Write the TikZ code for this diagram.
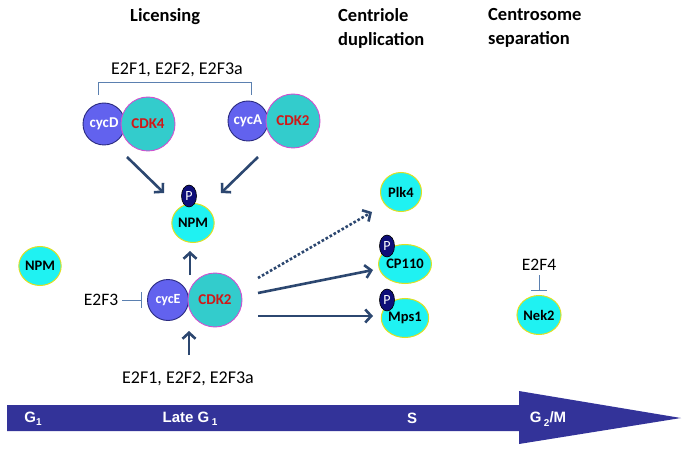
\documentclass[tikz,border=0pt]{standalone}
\usepackage{fontspec}
\setmainfont{Carlito}
\newfontfamily\barfont{Liberation Sans}
\usetikzlibrary{arrows.meta,shapes.geometric}
\definecolor{cycfill}{HTML}{6262EE}
\definecolor{cycline}{HTML}{2A2A80}
\definecolor{cdkfill}{HTML}{33CCCC}
\definecolor{cdkline}{HTML}{D050D0}
\definecolor{cdktext}{HTML}{D01818}
\definecolor{protfill}{HTML}{1FF2F2}
\definecolor{protline}{HTML}{E0E020}
\definecolor{pfill}{HTML}{0E0E78}
\definecolor{arrcol}{HTML}{2C4770}
\definecolor{inhcol}{HTML}{5B80B0}
\definecolor{barcol}{HTML}{333399}
\tikzset{
  cyc/.style={circle,draw=cycline,fill=cycfill,line width=0.9pt,inner sep=0pt,text=white,font=\bfseries\fontsize{15}{15}\selectfont},
  cdk/.style={circle,draw=cdkline,fill=cdkfill,line width=0.9pt,inner sep=0pt,text=cdktext,font=\bfseries\fontsize{15}{15}\selectfont},
  prot/.style={ellipse,draw=protline,fill=protfill,line width=1pt,inner sep=0pt,minimum width=41pt,minimum height=39pt,text=black,font=\bfseries\fontsize{14.5}{14.5}\selectfont},
  phos/.style={ellipse,draw=black,fill=pfill,line width=0.6pt,inner sep=0pt,minimum width=15pt,minimum height=22pt,text=white,font=\fontsize{14}{14}\selectfont},
  act/.style={draw=arrcol,line width=2.6pt,-{Straight Barb[length=6pt,width=13pt,line width=2.6pt]}},
  inh/.style={draw=inhcol,line width=0.9pt},
  lbl/.style={font=\fontsize{18}{18}\selectfont,inner sep=0pt},
  head/.style={font=\bfseries\fontsize{18.5}{24}\selectfont,inner sep=0pt,align=left,anchor=north west},
  phase/.style={text=white,font=\barfont\bfseries\fontsize{15}{15}\selectfont,inner sep=0pt}
}
\newcommand{\phsub}[1]{\raisebox{-3.5pt}{\fontsize{10}{10}\selectfont #1}}
\begin{document}
\begin{tikzpicture}[x=1pt,y=-1pt]
\useasboundingbox[fill=white] (0,0) rectangle (685,457);
% headings
\node[head] (h1) at (130,8) {Licensing};
\node[head] (h2) at (338,8) {Centriole\\duplication};
\node[head] (h3) at (488,8) {Centrosome\\separation};
% bracket
\node[lbl] (e2top) at (177,70) {E2F1, E2F2, E2F3a};
\coordinate (bl) at (98,95);
\coordinate (br) at (251,95);
\draw[inh] (bl) -- (98,82) -- (251,82) -- (br);
% cycD/CDK4
\node[cyc,minimum size=42pt] (cycD) at (104,124) {cycD};
\node[cdk,minimum size=54pt] (cdk4) at (148,124) {CDK4};
% cycA/CDK2
\node[cyc,minimum size=40pt] (cycA) at (248,121) {cycA};
\node[cdk,minimum size=54pt] (cdk2a) at (293,121) {CDK2};
% NPM top
\node[prot] (npm) at (193,223) {NPM};
\node[phos] (p1) at (189,196) {P};
\draw[act] (127,157) -- (164,193);
\draw[act] (258,157) -- (221,193);
% NPM left
\node[prot] (npml) at (40,266) {NPM};
% cycE/CDK2
\node[cyc,minimum size=41pt,font=\bfseries\fontsize{14}{14}\selectfont] (cycE) at (168,300) {cycE};
\node[cdk,minimum size=54pt] (cdk2) at (215,300) {CDK2};
\draw[act] (190,275) -- (190,251);
\draw[act] (189,355) -- (189,331);
\node[lbl,font=\fontsize{17.5}{17.5}\selectfont] (e2f3) at (101,300) {E2F3};
\coordinate (e3b) at (141,300);
\draw[inh] (122,300) -- (e3b);
\draw[inh] (141,292) -- (141,308);
\node[lbl] (e2bot) at (188,379) {E2F1, E2F2, E2F3a};
% right proteins
\node[prot] (plk4) at (401,192) {Plk4};
\node[prot] (cp110) at (405,264) {CP110};
\node[phos] (p2) at (387,246) {P};
\node[prot] (mps1) at (405,318) {Mps1};
\node[phos] (p3) at (387,300) {P};
\draw[act,dotted,line cap=butt] (258,278) -- (372,212);
\draw[act] (258,293) -- (373,270);
\draw[act] (258,316) -- (373,316);
% E2F4 / Nek2
\node[lbl,font=\fontsize{17.5}{17.5}\selectfont] (e2f4) at (539,265) {E2F4};
\node[prot,minimum width=44pt] (nek2) at (539,315) {Nek2};
\draw[inh] (539,275) -- (539,290);
\draw[inh] (531,290) -- (547,290);
% time arrow
\fill[barcol] (7,405) -- (519,405) -- (519,391) -- (681,418) -- (519,444) -- (519,431) -- (7,431) -- cycle;
\node[phase] (g1) at (33,419) {G\phsub{1}};
\node[phase] (lg1) at (190,419) {Late G\,\phsub{1}};
\node[phase] (s) at (412,418) {S};
\node[phase] (g2m) at (548,419) {G\,\phsub{2}/M};
\end{tikzpicture}
\end{document}
